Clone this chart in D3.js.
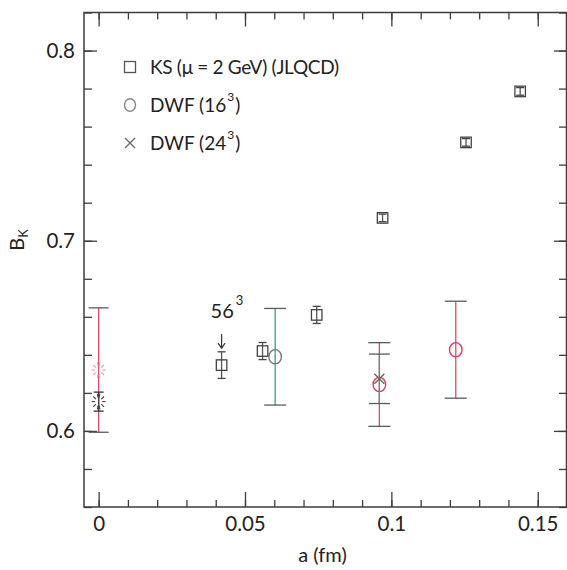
<!DOCTYPE html>
<html>
<head>
<meta charset="utf-8">
<script src="https://cdn.jsdelivr.net/npm/d3@7"></script>
<style>
  html, body { margin: 0; padding: 0; background: #fff; }
  svg { display: block; font-family: "Lato", "Noto Sans", sans-serif; }
</style>
</head>
<body>
<svg id="chart" width="567" height="570"></svg>
<script>
// ---------------- data ----------------
const xMajorTicks = [0, 0.05, 0.1, 0.15];
const xTickLabels = ["0", "0.05", "0.1", "0.15"];
const yMajorTicks = [0.6, 0.7, 0.8];
const yTickLabels = ["0.6", "0.7", "0.8"];

// KS (mu = 2 GeV) (JLQCD)
const ksA   = [0.042, 0.056, 0.0745, 0.097, 0.1255, 0.144];
const ksB   = [0.6346, 0.642, 0.661, 0.712, 0.7517, 0.7785];
const ksErr = [0.007, 0.0045, 0.0045, 0.002, 0.002, 0.002];

// DWF (16^3)
const dwf16A   = [0.0603, 0.0959, 0.122];
const dwf16B   = [0.639, 0.6244, 0.6427];
const dwf16Err = [0.0254, 0.022, 0.0255];

// DWF (24^3)
const dwf24A   = [0.0959];
const dwf24B   = [0.6274];
const dwf24Err = [0.013];

// continuum values at a = 0
const contA   = [0, 0];
const contB   = [0.6154, 0.632];
const contErr = [0.005, 0.0327];

const legendLabels = ["KS (\u03bc = 2 GeV) (JLQCD)", "DWF (16", "DWF (24"];

// ---------------- layout / style ----------------
const W = 567, H = 570;
const L = 84, R = 567, T = 12.5, B = 507;
const frameColor = "#3d3d3d";
const red = "#e04a66";
const green = "#3a9f7c";
const capColor = "#5a5a5a";
const fontSize = 19;
const tickFont = 20.5;

const svg = d3.select("#chart");
const x = d3.scaleLinear().domain([-0.005, 0.16]).range([L, R]);
const y = d3.scaleLinear().domain([0.56, 0.82]).range([B, T]);

const xMinor = d3.range(0, 0.1601, 0.01).map(v => +v.toFixed(3));
const yMinor = d3.range(0.56, 0.8201, 0.02).map(v => +v.toFixed(3));

function styleAxis(g) {
  g.select(".domain").remove();
  g.selectAll(".tick line").attr("stroke", frameColor).attr("stroke-width", 1.3);
  g.selectAll(".tick text").attr("fill", "#222").style("font-size", tickFont + "px")
    .style("font-family", "Lato, 'Noto Sans', sans-serif");
}

// bottom
svg.append("g").attr("transform", `translate(0,${B})`)
  .call(d3.axisBottom(x).tickValues(xMinor).tickSize(-7).tickFormat("")).call(styleAxis);
svg.append("g").attr("transform", `translate(0,${B})`)
  .call(d3.axisBottom(x).tickValues(xMajorTicks).tickSize(-15).tickPadding(9)
    .tickFormat((d, i) => xTickLabels[i])).call(styleAxis);
// top
svg.append("g").attr("transform", `translate(0,${T})`)
  .call(d3.axisTop(x).tickValues(xMinor).tickSize(-7).tickFormat("")).call(styleAxis);
svg.append("g").attr("transform", `translate(0,${T})`)
  .call(d3.axisTop(x).tickValues(xMajorTicks).tickSize(-14).tickFormat("")).call(styleAxis);
// left
svg.append("g").attr("transform", `translate(${L},0)`)
  .call(d3.axisLeft(y).tickValues(yMinor).tickSize(-8).tickFormat("")).call(styleAxis);
svg.append("g").attr("transform", `translate(${L},0)`)
  .call(d3.axisLeft(y).tickValues(yMajorTicks).tickSize(-13).tickPadding(9)
    .tickFormat((d, i) => yTickLabels[i])).call(styleAxis);
// right
svg.append("g").attr("transform", `translate(${R},0)`)
  .call(d3.axisRight(y).tickValues(yMinor).tickSize(-8).tickFormat("")).call(styleAxis);
svg.append("g").attr("transform", `translate(${R},0)`)
  .call(d3.axisRight(y).tickValues(yMajorTicks).tickSize(-13).tickFormat("")).call(styleAxis);

// frame
svg.append("rect").attr("x", L).attr("y", T).attr("width", R - L - 0.5).attr("height", B - T)
  .attr("fill", "none").attr("stroke", frameColor).attr("stroke-width", 1.5);

// axis titles
svg.append("text").attr("x", (L + R) / 2 - 3).attr("y", 562).attr("text-anchor", "middle")
  .style("font-size", "20px").attr("fill", "#222").text("a (fm)");
const yt = svg.append("text").attr("transform", `translate(24,240) rotate(-90)`)
  .attr("text-anchor", "middle").style("font-size", "20px").attr("fill", "#222");
yt.append("tspan").text("B");
yt.append("tspan").attr("dy", 4).style("font-size", "13px").text("K");

// ---------------- helpers ----------------
function errBar(g, a, b, e, color, capW, capCol) {
  const cx = x(a);
  g.append("line").attr("x1", cx).attr("x2", cx).attr("y1", y(b - e)).attr("y2", y(b + e))
    .attr("stroke", color).attr("stroke-width", 1.3);
  [b - e, b + e].forEach(v => {
    g.append("line").attr("x1", cx - capW / 2).attr("x2", cx + capW / 2)
      .attr("y1", y(v)).attr("y2", y(v)).attr("stroke", capCol).attr("stroke-width", 1.3);
  });
}
function square(g, cx, cy, s, col) {
  g.append("rect").attr("x", cx - s / 2).attr("y", cy - s / 2).attr("width", s).attr("height", s)
    .attr("fill", "none").attr("stroke", col).attr("stroke-width", 1.3);
}
function circle(g, cx, cy, r, col) {
  g.append("ellipse").attr("cx", cx).attr("cy", cy).attr("rx", r).attr("ry", r + 0.8)
    .attr("fill", "none").attr("stroke", col).attr("stroke-width", 1.4);
}
function cross(g, cx, cy, s, col) {
  g.append("path").attr("d", `M${cx - s},${cy - s}L${cx + s},${cy + s}M${cx - s},${cy + s}L${cx + s},${cy - s}`)
    .attr("stroke", col).attr("stroke-width", 1.3).attr("fill", "none");
}
function burst(g, cx, cy, col) {
  const angs = [0, 40, 80, 100, 140, 180, 220, 260, 280, 320];
  angs.forEach(d => {
    const r = d * Math.PI / 180;
    g.append("line")
      .attr("x1", cx + 3.5 * Math.cos(r)).attr("y1", cy + 4 * Math.sin(r))
      .attr("x2", cx + 7 * Math.cos(r)).attr("y2", cy + 8 * Math.sin(r))
      .attr("stroke", col).attr("stroke-width", 1.1);
  });
}

const g = svg.append("g");

// continuum points at a = 0
errBar(g, contA[1], contB[1], contErr[1], red, 20, capColor);
burst(g, x(contA[1]), y(contB[1]), "#e899a8");
errBar(g, contA[0], contB[0], contErr[0], "#444", 10, "#333");
burst(g, x(contA[0]), y(contB[0]), "#444");

// DWF 16^3
dwf16A.forEach((a, i) => {
  errBar(g, a, dwf16B[i], dwf16Err[i], i === 0 ? green : red, 22, capColor);
});
// DWF 24^3
dwf24A.forEach((a, i) => {
  errBar(g, a, dwf24B[i], dwf24Err[i], green, 21, capColor);
});
dwf16A.forEach((a, i) => circle(g, x(a), y(dwf16B[i]), 6.3, i === 0 ? "#777" : "#d2405c"));
dwf24A.forEach((a, i) => cross(g, x(a), y(dwf24B[i]), 5, "#666"));

// KS
ksA.forEach((a, i) => {
  errBar(g, a, ksB[i], ksErr[i], "#555", 8, "#444");
  square(g, x(a), y(ksB[i]), 10.5, "#444");
});

// 56^3 annotation
const ax = x(ksA[0]), ay = y(ksB[0]);
const lab = svg.append("text").attr("x", ax - 11).attr("y", ay - 47)
  .style("font-size", "20px").attr("fill", "#222");
lab.append("tspan").text("56");
lab.append("tspan").attr("dy", -13).attr("dx", 2).style("font-size", "13px").text("3");
svg.append("line").attr("x1", ax).attr("x2", ax).attr("y1", ay - 31).attr("y2", ay - 17)
  .attr("stroke", "#333").attr("stroke-width", 1.2);
svg.append("path").attr("d", `M${ax - 3.5},${ay - 22}L${ax},${ay - 17}L${ax + 3.5},${ay - 22}`)
  .attr("stroke", "#333").attr("stroke-width", 1.2).attr("fill", "none");

// ---------------- legend ----------------
const lg = svg.append("g");
const lx = 130, ly = [67, 105, 143];
square(lg, lx, ly[0], 11, "#555");
circle(lg, lx, ly[1], 5.5, "#888");
cross(lg, lx, ly[2], 5, "#666");
const t0 = lg.append("text").attr("x", 150).attr("y", ly[0] + 7).style("font-size", fontSize + "px")
  .style("letter-spacing", "-0.3px").attr("fill", "#222").text(legendLabels[0]);
[1, 2].forEach(i => {
  const t = lg.append("text").attr("x", 150).attr("y", ly[i] + 7).style("font-size", fontSize + "px")
    .attr("fill", "#222");
  t.append("tspan").text(legendLabels[i]);
  t.append("tspan").attr("dy", -11).attr("dx", 1).style("font-size", "12px").text("3");
  t.append("tspan").attr("dy", 11).attr("dx", 1).text(")");
});
</script>
</body>
</html>
